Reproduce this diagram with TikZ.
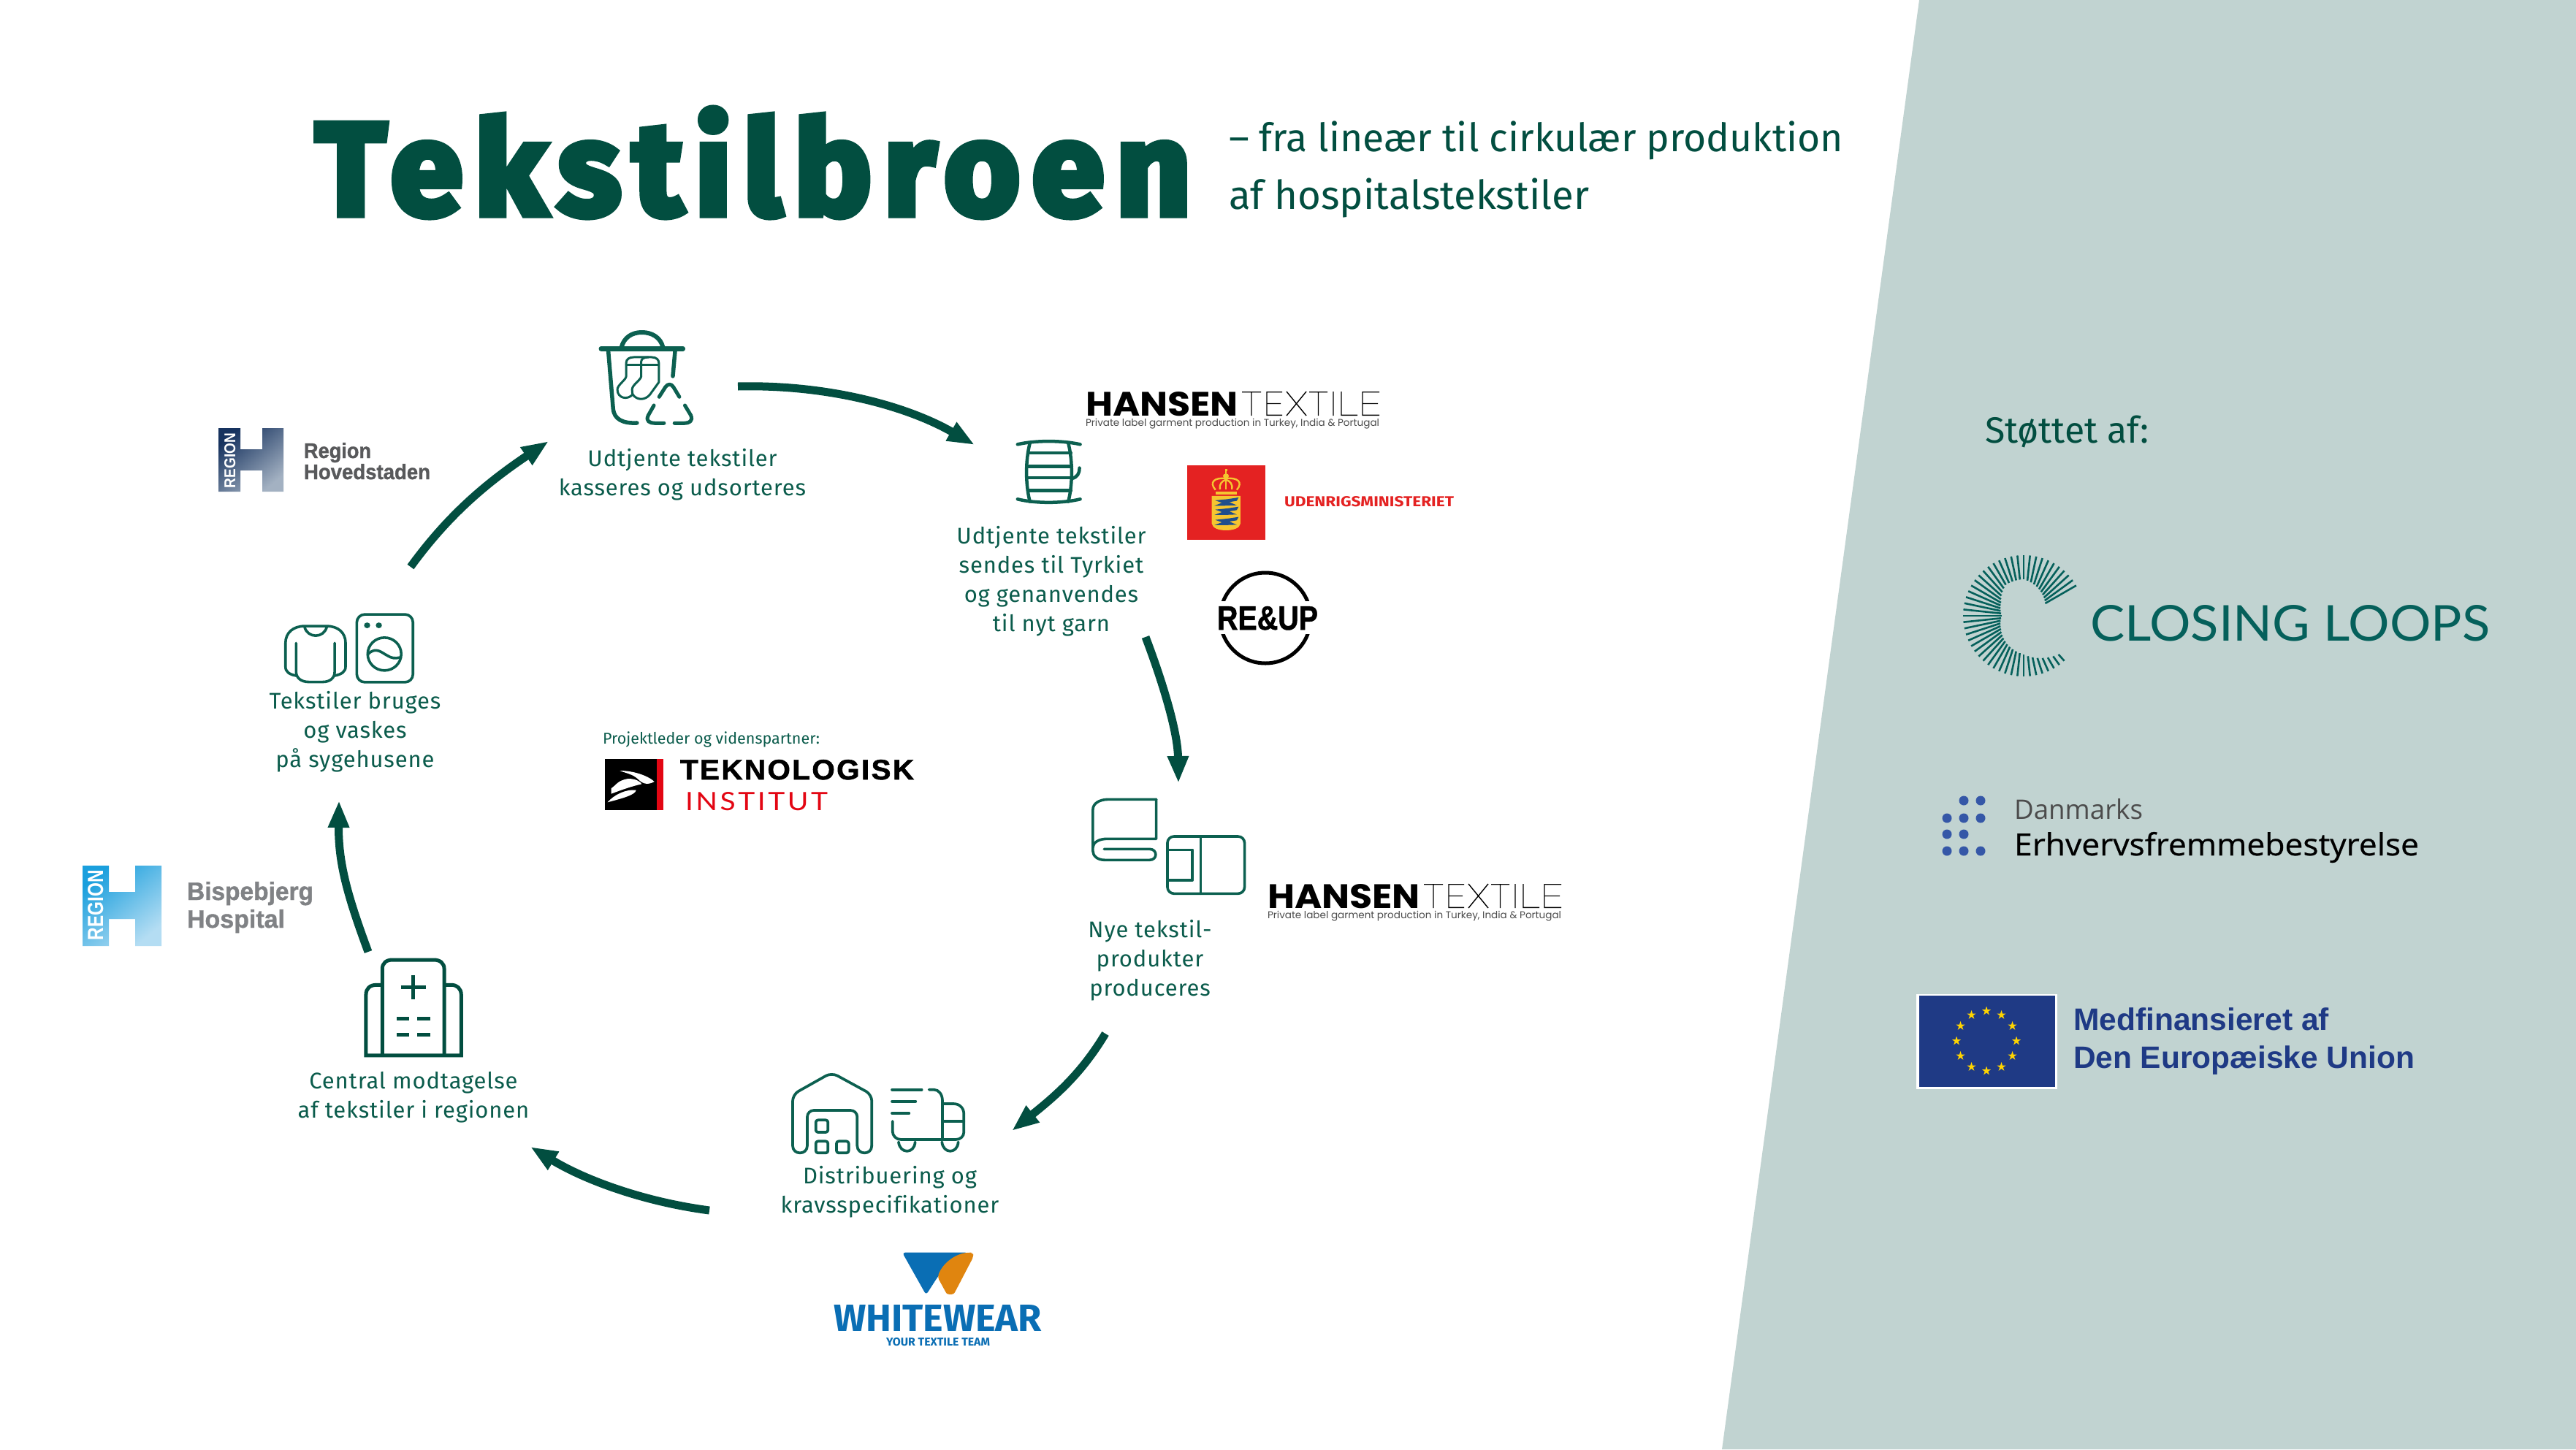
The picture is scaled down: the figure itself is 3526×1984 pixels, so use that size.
\documentclass[tikz,border=0pt]{standalone}
\usepackage{fontspec}
\usepackage{graphicx}
\usetikzlibrary{arrows.meta,shapes.geometric}
\setmainfont{Fira Sans}
\newfontfamily\titlef[BoldFeatures={FakeBold=5,LetterSpace=9}]{Fira Sans}
\newfontfamily\labf[LetterSpace=2.8,Ligatures=NoCommon]{Fira Sans}
\newfontfamily\hanb{Poppins}
\newfontfamily\arial{Liberation Sans}
\newfontfamily\arialh[BoldFeatures={FakeBold=1.2}]{Liberation Sans}
\newfontfamily\arialw[BoldFeatures={FakeBold=1.5,LetterSpace=6}]{Liberation Sans}
\newfontfamily\lato{Lato}
\newfontfamily\latos[LetterSpace=9]{Lato}
\newfontfamily\plexish{Open Sans}
\newfontfamily\plexb[FakeBold=0.6]{Open Sans}
\definecolor{tgreen}{HTML}{024E40}
\definecolor{lgreen}{HTML}{0B5C4C}
\definecolor{igreen}{HTML}{0C6050}
\definecolor{panel}{HTML}{C1D3D1}
\definecolor{clgreen}{HTML}{05605B}
\definecolor{dblue}{HTML}{3557A7}
\definecolor{eublue}{HTML}{1F3A85}
\definecolor{eustar}{HTML}{FFD400}
\definecolor{umred}{HTML}{E42222}
\definecolor{umyel}{HTML}{F5C530}
\definecolor{umblue}{HTML}{1F4E8C}
\definecolor{wwblue}{HTML}{0A6EB4}
\definecolor{wworange}{HTML}{E0850F}
\definecolor{tired}{HTML}{E30613}
\definecolor{rgrey}{HTML}{58595B}
\definecolor{bgrey}{HTML}{808285}
\newcommand\fb[3]{\resizebox{#1pt}{#2pt}{#3}}
\newcommand\fw[2]{\resizebox{#1pt}{!}{#2}}
\tikzset{
  zm/.style n args={4}{shift={(#1,#2)},x=#3pt,y=-#4pt},
  ico/.style={draw=igreen,line cap=round,line join=round},
  arr/.style={draw=tgreen,line width=11pt,-{Triangle[length=37pt,width=27pt,fill=tgreen]}},
  lab/.style={text=lgreen,align=center,font=\labf\fontsize{31}{40}\selectfont},
  txt/.style={anchor=base west,inner sep=0pt,outer sep=0pt},
  every node/.append style={inner sep=0pt,outer sep=0pt}
}
\newcommand\hansenlogo[3]{%
  \begin{scope}[shift={(#2,#3)}]
  \node[txt] (#1a) at (0,0) {\fb{209}{33}{\hanb\bfseries HANSEN}};
  \draw[line width=1.4pt,black]
    (214,-32.3) -- (240,-32.3) (227,-32.3) -- (227,0)
    (269,-32.3) -- (248,-32.3) -- (248,-.7) -- (269,-.7) (248,-16.5) -- (267,-16.5)
    (275,-33) -- (302,0) (302,-33) -- (275,0)
    (306,-32.3) -- (331,-32.3) (318.5,-32.3) -- (318.5,0)
    (339,-33) -- (339,0)
    (350,-33) -- (350,-.7) -- (372,-.7)
    (402,-32.3) -- (379,-32.3) -- (379,-.7) -- (402,-.7) (379,-16.5) -- (400,-16.5);
  \node[txt] (#1c) at (0,14) {\fw{402}{\color{black!70}\hanb Private label garment production in Turkey, India \& Portugal}};
  \end{scope}
}
\begin{document}
\begin{tikzpicture}[x=1pt,y=-1pt,font=\fontsize{40}{48}\selectfont]
\useasboundingbox (0,0) rectangle (3526,1984);
\fill[white] (0,0) rectangle (3526,1984);
\fill[panel] (2627,0) -- (3526,0) -- (3526,1984) -- (2357,1984) -- cycle;

% title
\node[txt,text=tgreen] (title) at (432,294) {\fb{1198}{146}{\titlef\bfseries Tekstilbroen}};
\node[txt,text=tgreen] (sub1) at (1682,207) {\fw{841}{– fra lineær til cirkulær produktion}};
\node[txt,text=tgreen] (sub2) at (1682,286) {\fw{493}{af hospitalstekstiler}};

% labels
\node[lab] (l1) at (934,650) {Udtjente tekstiler\\kasseres og udsorteres};
\node[lab] (l2) at (1439,796) {Udtjente tekstiler\\sendes til Tyrkiet\\og genanvendes\\til nyt garn};
\node[lab] (l3) at (1574,1315) {Nye tekstil-\\produkter\\produceres};
\node[lab] (l4) at (1218,1632) {Distribuering og\\kravsspecifikationer};
\node[lab] (l5) at (566,1502) {Central modtagelse\\af tekstiler i regionen};
\node[lab] (l6) at (486,1002) {Tekstiler bruges\\og vaskes\\på sygehusene};

% arrows
\coordinate (a1s) at (1010,529); \coordinate (a1c) at (1130,526); \coordinate (a1d) at (1240,555); \coordinate (a1e) at (1334,609);
\coordinate (a2s) at (1568,872); \coordinate (a2c) at (1590,930); \coordinate (a2d) at (1612,1000); \coordinate (a2e) at (1613,1072);
\coordinate (a3s) at (1513,1415); \coordinate (a3c) at (1480,1470); \coordinate (a3d) at (1445,1500); \coordinate (a3e) at (1385,1548);
\coordinate (a4s) at (971,1657); \coordinate (a4c) at (880,1645); \coordinate (a4d) at (800,1615); \coordinate (a4e) at (726,1570);
\coordinate (a5s) at (504,1303); \coordinate (a5c) at (475,1225); \coordinate (a5d) at (463,1180); \coordinate (a5e) at (464,1096);
\coordinate (a6s) at (562,776); \coordinate (a6c) at (610,710); \coordinate (a6d) at (660,665); \coordinate (a6e) at (751,604);
\draw[arr] (a1s) .. controls (a1c) and (a1d) .. (a1e);
\draw[arr] (a2s) .. controls (a2c) and (a2d) .. (a2e);
\draw[arr] (a3s) .. controls (a3c) and (a3d) .. (a3e);
\draw[arr] (a4s) .. controls (a4c) and (a4d) .. (a4e);
\draw[arr] (a5s) .. controls (a5c) and (a5d) .. (a5e);
\draw[arr] (a6s) .. controls (a6c) and (a6d) .. (a6e);

% trash icon
\begin{scope}[zm={700}{400}{.4464}{.3333},ico]
\draw[line width=6pt] (337,228) .. controls (345,185) and (370,165) .. (400,165) .. controls (430,165) and (458,185) .. (465,228);
\draw[line width=6.5pt] (275,232) -- (526,232);
\draw[line width=5.5pt] (297,240) -- (312,480) .. controls (315,520) and (340,540) .. (385,537);
\draw[line width=5.5pt] (502,240) -- (495,345);
\draw[line width=3pt] (352,345) -- (352,290) .. controls (352,275) and (362,267) .. (375,267) -- (430,267) .. controls (445,267) and (452,278) .. (452,290) -- (452,370) -- (425,420) .. controls (410,445) and (385,445) .. (372,420) .. controls (355,445) and (325,435) .. (325,400) .. controls (325,380) and (352,360) .. (352,345);
\draw[line width=3pt] (398,345) -- (398,285) .. controls (398,275) and (405,267) .. (420,267);
\draw[line width=3pt] (398,345) .. controls (398,360) and (370,380) .. (370,400) .. controls (370,410) and (371,415) .. (372,420);
\draw[line width=3pt] (352,298) -- (450,298);
\draw[line width=5pt] (453,430) -- (472,390) .. controls (480,375) and (490,375) .. (497,390) -- (515,430);
\draw[line width=5pt] (437,465) -- (420,505) .. controls (410,530) and (425,538) .. (440,538) -- (468,538);
\draw[line width=5pt] (532,465) -- (550,505) .. controls (558,530) and (545,538) .. (530,538) -- (500,538);
\end{scope}

% barrel icon
\begin{scope}[zm={1300}{480}{.5102}{.3333},ico,line width=4.5pt]
\draw (182,385) .. controls (230,368) and (300,368) .. (350,385);
\draw (182,610) .. controls (230,628) and (300,628) .. (350,610);
\draw (215,380) .. controls (203,450) and (203,550) .. (215,620);
\draw (318,380) .. controls (330,450) and (330,550) .. (318,620);
\draw (210,420) -- (325,420);
\draw (207,475) -- (327,475);
\draw (207,522) -- (327,522);
\draw (210,575) -- (325,575);
\draw (348,482) .. controls (348,505) and (342,520) .. (328,525);
\end{scope}

% fabric icon
\begin{scope}[zm={1400}{1050}{.5102}{.3333},ico,line width=3.6pt]
\draw (358,133) -- (230,133) .. controls (205,133) and (188,150) .. (188,175) -- (188,345) .. controls (188,365) and (200,382) .. (220,382) -- (340,382) .. controls (362,382) and (362,337) .. (340,337) -- (218,337);
\draw (188,330) .. controls (188,310) and (205,295) .. (225,295) -- (358,295) -- (358,133);
\draw[rounded corners=9pt] (388,285) rectangle (595,520);
\draw (477,285) -- (477,520);
\draw (390,340) -- (455,340) -- (455,465) -- (390,465);
\end{scope}

% warehouse and truck
\begin{scope}[zm={1000}{1400}{.3333}{.3333},ico,line width=3.7pt]
\draw[rounded corners=9pt] (255,505) -- (255,295) -- (415,205) -- (580,295) -- (580,505);
\draw (255,505) .. controls (255,545) and (315,545) .. (315,505);
\draw (520,505) .. controls (520,545) and (580,545) .. (580,505);
\draw[rounded corners=9pt] (315,505) -- (315,360) -- (520,360) -- (520,505);
\draw[rounded corners=3pt] (350,400) rectangle (400,450);
\draw[rounded corners=3pt] (350,487) rectangle (400,535);
\draw[rounded corners=3pt] (435,487) rectangle (485,535);
\draw (663,275) -- (785,275);
\draw (663,323) -- (760,323);
\draw (663,372) -- (733,372);
\draw (815,275) -- (835,275) .. controls (855,275) and (870,295) .. (870,320) -- (870,480);
\draw (665,405) -- (665,445) .. controls (665,465) and (680,480) .. (700,480) -- (925,480) .. controls (945,480) and (958,465) .. (958,450) -- (958,375) .. controls (958,350) and (940,333) .. (915,333) -- (870,333);
\draw (870,405) -- (958,405);
\draw (690,490) .. controls (695,540) and (755,540) .. (758,490);
\draw (868,490) .. controls (873,540) and (932,540) .. (935,490);
\end{scope}

% hospital
\begin{scope}[zm={80}{1150}{.4464}{.3333},line width=5pt]
\draw[draw=tgreen] (993,880) -- (993,530) .. controls (993,505) and (1005,492) .. (1025,492) -- (1150,492) .. controls (1170,492) and (1183,505) .. (1183,530) -- (1183,880);
\draw[draw=tgreen] (993,595) -- (975,595) .. controls (955,595) and (943,610) .. (943,635) -- (943,885) -- (1235,885) -- (1235,635) .. controls (1235,610) and (1222,595) .. (1205,595) -- (1183,595);
\draw[draw=tgreen] (1088,555) -- (1088,655);
\draw[draw=tgreen] (1050,605) -- (1127,605);
\draw[draw=tgreen] (1037,733) -- (1075,733);
\draw[draw=tgreen] (1100,733) -- (1140,733);
\draw[draw=tgreen] (1037,800) -- (1075,800);
\draw[draw=tgreen] (1100,800) -- (1140,800);
\end{scope}

% shirt and washer
\begin{scope}[zm={80}{800}{.3827}{.3571},ico,line width=3.6pt]
\draw (850,350) .. controls (825,345) and (812,335) .. (812,315) -- (812,225) .. controls (812,185) and (840,160) .. (880,160) -- (960,160) .. controls (1000,160) and (1027,185) .. (1027,225) -- (1027,315) .. controls (1027,335) and (1012,345) .. (988,350);
\draw (850,225) -- (850,335) .. controls (850,360) and (870,374) .. (895,374) -- (945,374) .. controls (970,374) and (988,360) .. (988,335) -- (988,225);
\draw (880,162) .. controls (890,208) and (950,208) .. (960,162);
\draw[rounded corners=11pt] (1067,115) rectangle (1268,375);
\fill[igreen] (1104,157) ellipse [x radius=11, y radius=11];
\fill[igreen] (1146,157) ellipse [x radius=11, y radius=11];
\draw (1166,267) ellipse [x radius=60, y radius=63];
\draw (1107,268) .. controls (1135,235) and (1160,265) .. (1175,272) .. controls (1190,283) and (1205,285) .. (1222,280);
\end{scope}

% HANSEN logos
\hansenlogo{hna}{1486}{569}
\hansenlogo{hnb}{1735}{1243}

% Udenrigsministeriet
\fill[umred] (1625,637) rectangle (1732,739);
\begin{scope}[zm={1300}{480}{.5102}{.3333}]
\fill[umyel] (713,578) rectangle (770,592);
\draw[umyel,line width=2.4pt] (738,490) -- (745,490);
\draw[umyel,line width=1.6pt] (741,490) -- (741,515);
\fill[umyel] (741,515) ellipse [x radius=8, y radius=10];
\draw[umyel,line width=2.4pt] (713,572) .. controls (695,540) and (710,520) .. (741,525) .. controls (772,520) and (788,540) .. (770,572);
\draw[umyel,line width=2.4pt] (725,570) .. controls (722,550) and (730,535) .. (741,530) .. controls (752,535) and (760,550) .. (757,570);
\draw[umyel,line width=2pt] (741,530) -- (741,570);
\fill[umyel] (703,597) -- (780,597) -- (780,710) .. controls (778,730) and (760,738) .. (741,738) .. controls (722,738) and (705,730) .. (703,710) -- cycle;
\foreach \ly in {625,663,705}{
  \fill[umblue] (712,\ly-10) -- (745,\ly-15) -- (775,\ly-22) -- (770,\ly-8) -- (750,\ly-3) -- (770,\ly+10) -- (735,\ly+12) -- (710,\ly+12) -- (730,\ly) -- cycle;
}
\end{scope}
\node[txt,text=umred] (um) at (1758,693) {\fb{232}{14}{\bfseries UDENRIGSMINISTERIET}};

% RE&UP
\draw[black,line width=5pt] (1732,846) circle[radius=62];
\fill[white] (1655,823) rectangle (1812,868);
\node[txt] (reup) at (1666,862) {\fb{138}{32}{\arialh\bfseries RE\&UP}};

% Whitewear
\begin{scope}[zm={1000}{1400}{.3333}{.3333}]
\fill[wwblue,rounded corners=4pt] (705,944) -- (975,944) -- (905,975) -- (850,1045) -- (803,1118) -- cycle;
\fill[wworange,rounded corners=4pt] (980,944) .. controls (920,950) and (870,990) .. (850,1045) -- (880,1100) .. controls (890,1118) and (915,1118) .. (925,1100) -- (998,960) -- (995,944) -- cycle;
\end{scope}
\node[txt,text=wwblue] (ww1) at (1141,1822) {\fb{285}{36}{\bfseries WHITEWEAR}};
\node[txt,text=wwblue] (ww2) at (1213,1842) {\fb{142}{11}{\bfseries YOUR TEXTILE TEAM}};

% Region H logos
\definecolor{rh1}{HTML}{17335F}\definecolor{rh2}{HTML}{23477A}\definecolor{rh3}{HTML}{A3B1C2}
\definecolor{bh1}{HTML}{1A9FDD}\definecolor{bh2}{HTML}{05B4E6}\definecolor{bh3}{HTML}{B4DDF3}
\shade[top color=rh1,middle color=rh2,bottom color=rh3,shading angle=40]
 (299,586) -- (329,586) -- (329,615) -- (359,615) -- (359,586) -- (388,586) -- (388,673) -- (359,673) -- (359,644) -- (329,644) -- (329,673) -- (299,673) -- cycle;
\node[txt,rotate=90,text=white] (rh1n) at (322,668) {\fb{75}{15}{\arial\bfseries REGION}};
\node[txt,text=rgrey] (rh2n) at (416,627) {\fb{92}{21}{\arialh\bfseries Region}};
\node[txt,text=rgrey] (rh3n) at (416,656) {\fb{173}{21}{\arialh\bfseries Hovedstaden}};

\shade[top color=bh1,middle color=bh2,bottom color=bh3,shading angle=40]
 (113,1185) -- (149,1185) -- (149,1221) -- (185,1221) -- (185,1185) -- (221,1185) -- (221,1295) -- (185,1295) -- (185,1258) -- (149,1258) -- (149,1295) -- (113,1295) -- cycle;
\node[txt,rotate=90,text=white] (bh1n) at (141,1287) {\fb{96}{21}{\arial\bfseries REGION}};
\node[txt,text=bgrey] (bh2n) at (256,1232) {\fb{173}{25}{\arialh\bfseries Bispebjerg}};
\node[txt,text=bgrey] (bh3n) at (256,1270) {\fb{134}{25}{\arialh\bfseries Hospital}};

% Teknologisk
\node[txt,text=lgreen] (ti0) at (825,1018) {\fw{297}{Projektleder og videnspartner:}};
\fill[black] (828,1039) rectangle (899,1109);
\fill[tired] (899,1039) rectangle (908,1109);
\begin{scope}[zm={780}{960}{.3333}{.3333}]
\fill[white] (205,285) .. controls (260,285) and (320,305) .. (347,330) .. controls (320,345) and (300,340) .. (280,320) .. controls (260,300) and (230,295) .. (205,285) -- cycle;
\fill[white] (170,380) -- (170,358) .. controls (190,345) and (195,325) .. (240,318) .. controls (270,318) and (290,330) .. (295,340) .. controls (250,350) and (210,365) .. (170,380) -- cycle;
\fill[white] (155,415) .. controls (180,385) and (230,360) .. (272,365) .. controls (270,385) and (210,400) .. (155,415) -- cycle;
\end{scope}
\node[txt] (ti1) at (931,1067) {\fb{320}{27}{\arialw\bfseries TEKNOLOGISK}};
\node[txt,text=tired] (ti2) at (938,1109) {\fb{195}{25}{\latos INSTITUT}};

% right panel
\node[txt,text=tgreen] (st) at (2717,606) {\fw{224}{Støttet af:}};

% Closing loops
\foreach \a in {30,36,...,312}{
  \pgfmathsetmacro\ri{\a<90 ? 34+(\a-30)*16/60 : (\a<120 ? 50-(\a-90)/30 : (\a<150 ? 49-(\a-120)*13/30 : (\a<180 ? 36-(\a-150)*6/30 : (\a<210 ? 30+(\a-180)*6/30 : (\a<240 ? 36+(\a-210)*9/30 : (\a<270 ? 45+(\a-240)*8/30 : 53+(\a-270)*19/44))))))}
  \draw[clgreen,line width=2.6pt] ({2770+83*cos(\a)},{843-83*sin(\a)}) -- ({2770+\ri*cos(\a)},{843-\ri*sin(\a)});
}
\node[txt,text=clgreen] (cl) at (2861,877) {\fb{547}{49}{\lato CLOSING LOOPS}};

% Danmarks Erhverv
\foreach \cx/\cy in {2688/1096,2711/1096,2665/1120,2688/1120,2711/1120,2665/1142,2688/1142,2665/1165,2688/1165,2711/1165}{
  \fill[dblue] (\cx,\cy) circle[radius=6.5];
}
\node[txt,text=black!70] (de1) at (2757,1121) {\fb{176}{28}{\plexish Danmarks}};
\node[txt,text=black] (de2) at (2757,1171) {\fb{554}{32}{\plexb Erhvervsfremmebestyrelse}};

% EU
\fill[white] (2623,1361) rectangle (2816,1491);
\fill[eublue] (2627,1363) rectangle (2813,1488);
\foreach \i in {1,...,12}{
  \node[star,star points=5,star point ratio=2.618,fill=eustar,minimum size=13pt] (eu\i) at ({2719+41*cos(30*\i)},{1425+41*sin(30*\i)}) {};
}
\node[txt,text=eublue] (eu1t) at (2838,1410) {\fw{350}{\arial\bfseries Medfinansieret af}};
\node[txt,text=eublue] (eu2t) at (2838,1462) {\fw{467}{\arial\bfseries Den Europæiske Union}};
\end{tikzpicture}
\end{document}
